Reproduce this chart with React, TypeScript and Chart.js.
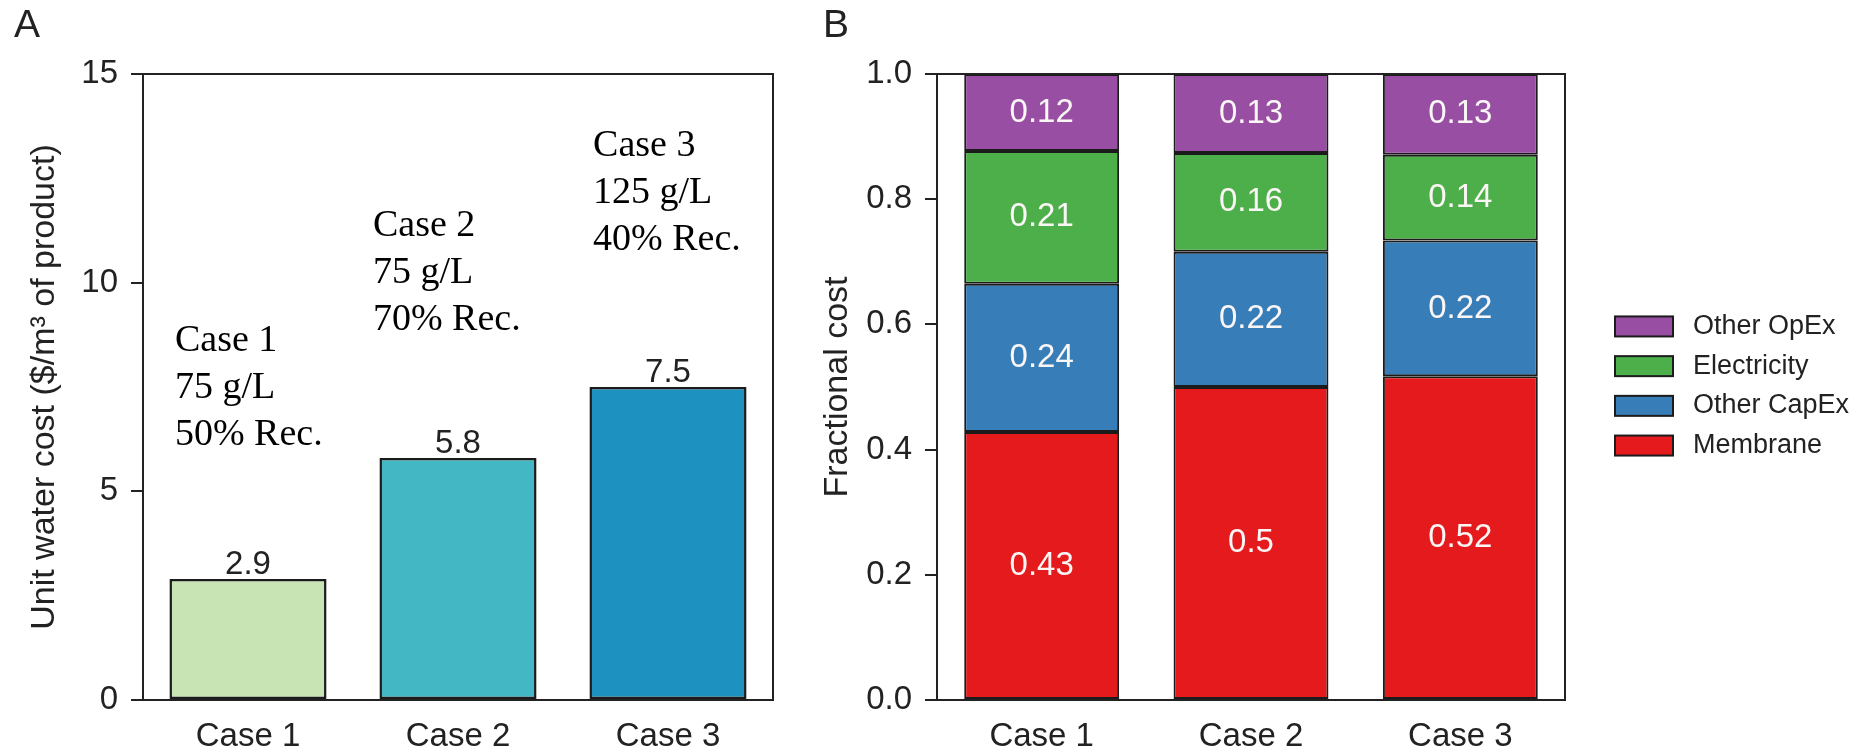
import React, { useEffect, useRef } from 'react';
import { Chart, registerables } from 'chart.js';

Chart.register(...registerables);

// ---------- data ----------
const cases = ['Case 1', 'Case 2', 'Case 3'];

// Panel A
const unitCost = [2.9, 5.8, 7.5];
const unitCostColors = ['#c9e4b4', '#44b7c4', '#1d91c0'];
const unitCostTicks = [0, 5, 10, 15];
const caseNotes = [
  ['Case 1', '75 g/L', '50% Rec.'],
  ['Case 2', '75 g/L', '70% Rec.'],
  ['Case 3', '125 g/L', '40% Rec.'],
];

// Panel B (fractions, bottom to top)
const membrane = [0.428, 0.5, 0.517];
const otherCapEx = [0.237, 0.216, 0.217];
const electricity = [0.212, 0.158, 0.137];
const otherOpEx = [0.123, 0.126, 0.129];
const fractionTicks = [0, 0.2, 0.4, 0.6, 0.8, 1.0];

// ---------- layout / style constants ----------
const SANS = '"Liberation Sans", Arial, Helvetica, sans-serif';
const SERIF = '"Liberation Serif", "Times New Roman", serif';
const INK = '#222222';
const EDGE = '#1b1b1b';
// annotation anchors (category offset in category widths, y in data units of the baseline of the first line)
const notePos = [
  { dx: -0.348, y: 8.36 },
  { dx: -0.405, y: 11.12 },
  { dx: -0.357, y: 13.03 },
];
const NOTE_LINE = 47;

const fmt2 = (v: number) => String(Number(v.toFixed(2)));

function framePlugin(letter: string, letterX: number) {
  return {
    id: 'frame' + letter,
    afterDraw(chart: any) {
      const { ctx, chartArea } = chart;
      ctx.save();
      ctx.strokeStyle = INK;
      ctx.lineWidth = 2;
      ctx.beginPath();
      ctx.moveTo(chartArea.left, chartArea.top);
      ctx.lineTo(chartArea.right, chartArea.top);
      ctx.lineTo(chartArea.right, chartArea.bottom);
      ctx.stroke();
      ctx.fillStyle = INK;
      ctx.font = `39px ${SANS}`;
      ctx.textAlign = 'left';
      ctx.textBaseline = 'alphabetic';
      ctx.fillText(letter, letterX, 37);
      ctx.restore();
    },
  };
}

const panelALabels = {
  id: 'panelALabels',
  afterDatasetsDraw(chart: any) {
    const { ctx } = chart;
    const meta = chart.getDatasetMeta(0);
    const xs = chart.scales.x;
    const ys = chart.scales.y;
    ctx.save();
    ctx.fillStyle = INK;
    ctx.font = `33px ${SANS}`;
    ctx.textAlign = 'center';
    ctx.textBaseline = 'alphabetic';
    meta.data.forEach((el: any, i: number) => {
      ctx.fillText(String(unitCost[i]), el.x, el.y - 5);
    });
    ctx.fillStyle = '#000000';
    ctx.font = `38px ${SERIF}`;
    ctx.textAlign = 'left';
    const catW = xs.width / cases.length;
    caseNotes.forEach((lines, i) => {
      const x = xs.getPixelForValue(i) + notePos[i].dx * catW;
      const y0 = ys.getPixelForValue(notePos[i].y);
      lines.forEach((t, k) => ctx.fillText(t, x, y0 + k * NOTE_LINE));
    });
    ctx.restore();
  },
};

const panelBLabels = {
  id: 'panelBLabels',
  afterDatasetsDraw(chart: any) {
    const { ctx } = chart;
    ctx.save();
    ctx.fillStyle = '#fbf6f6';
    ctx.font = `33px ${SANS}`;
    ctx.textAlign = 'center';
    ctx.textBaseline = 'middle';
    chart.data.datasets.forEach((ds: any, di: number) => {
      const meta = chart.getDatasetMeta(di);
      meta.data.forEach((el: any, i: number) => {
        ctx.fillText(fmt2(ds.data[i]), el.x, (el.y + el.base) / 2);
      });
    });
    ctx.restore();
  },
  afterDraw(chart: any) {
    const { ctx, chartArea } = chart;
    const items = chart.data.datasets.slice().reverse();
    const x0 = chartArea.right + 50;
    const step = 39.7;
    const cy0 = (chartArea.top + chartArea.bottom) / 2 - (step * (items.length - 1)) / 2 - 1;
    ctx.save();
    items.forEach((ds: any, i: number) => {
      const cy = cy0 + i * step;
      ctx.fillStyle = ds.backgroundColor;
      ctx.fillRect(x0, cy - 10, 58, 20);
      ctx.strokeStyle = EDGE;
      ctx.lineWidth = 2;
      ctx.strokeRect(x0, cy - 10, 58, 20);
      ctx.fillStyle = INK;
      ctx.font = `27px ${SANS}`;
      ctx.textAlign = 'left';
      ctx.textBaseline = 'middle';
      ctx.fillText(ds.label, x0 + 58 + 20, cy);
    });
    ctx.restore();
  },
};

function yAxis(min: number, max: number, tickList: number[], title: string, width: number, titlePad: number, fmt: (v: number) => string) {
  return {
    min,
    max,
    stacked: true,
    afterBuildTicks: (s: any) => {
      s.ticks = tickList.map((v) => ({ value: v }));
    },
    afterFit: (s: any) => {
      s.width = width;
    },
    ticks: {
      color: INK,
      padding: 13,
      font: { family: SANS, size: 33 },
      callback: (v: any) => fmt(Number(v)),
    },
    grid: { drawOnChartArea: false, drawTicks: true, tickLength: 12, color: INK, lineWidth: 2 },
    border: { display: true, color: INK, width: 2 },
    title: {
      display: true,
      text: title,
      color: INK,
      font: { family: SANS, size: 34 },
      padding: { top: titlePad, bottom: 0 },
    },
  };
}

function xAxis() {
  return {
    stacked: true,
    afterFit: (s: any) => {
      s.height = 55;
    },
    grid: { display: false, drawTicks: false },
    border: { display: true, color: INK, width: 2 },
    ticks: { color: INK, padding: 17, font: { family: SANS, size: 33 } },
  };
}

export default function App() {
  const refA = useRef<HTMLCanvasElement>(null);
  const refB = useRef<HTMLCanvasElement>(null);

  useEffect(() => {
    document.body.style.margin = '0';
    document.body.style.overflow = 'hidden';

    const chartA = new Chart(refA.current as HTMLCanvasElement, {
      type: 'bar',
      data: {
        labels: cases,
        datasets: [
          {
            label: 'Unit water cost',
            data: unitCost,
            backgroundColor: unitCostColors,
            borderColor: EDGE,
            borderWidth: 2.5,
            borderSkipped: false,
            barPercentage: 0.748,
            categoryPercentage: 1,
          },
        ],
      },
      options: {
        animation: false,
        responsive: true,
        maintainAspectRatio: false,
        layout: { padding: { top: 74, right: 17, bottom: 0, left: 0 } },
        plugins: { legend: { display: false }, tooltip: { enabled: false } },
        scales: {
          x: xAxis() as any,
          y: yAxis(0, 15, unitCostTicks, 'Unit water cost ($/m³ of product)', 143, 24, (v) => String(v)) as any,
        },
      },
      plugins: [framePlugin('A', 14), panelALabels],
    });

    const chartB = new Chart(refB.current as HTMLCanvasElement, {
      type: 'bar',
      data: {
        labels: cases,
        datasets: [
          { label: 'Membrane', data: membrane, backgroundColor: '#e41a1c' },
          { label: 'Other CapEx', data: otherCapEx, backgroundColor: '#377eb8' },
          { label: 'Electricity', data: electricity, backgroundColor: '#4daf4a' },
          { label: 'Other OpEx', data: otherOpEx, backgroundColor: '#984ea3' },
        ].map((d) => ({
          ...d,
          borderColor: EDGE,
          borderWidth: 2,
          borderSkipped: false,
          barPercentage: 0.74,
          categoryPercentage: 1,
        })),
      },
      options: {
        animation: false,
        responsive: true,
        maintainAspectRatio: false,
        layout: { padding: { top: 74, right: 302, bottom: 0, left: 0 } },
        plugins: { legend: { display: false }, tooltip: { enabled: false } },
        scales: {
          x: xAxis() as any,
          y: yAxis(0, 1, fractionTicks, 'Fractional cost', 147, 27, (v) => v.toFixed(1)) as any,
        },
      },
      plugins: [framePlugin('B', 33), panelBLabels],
    });

    return () => {
      chartA.destroy();
      chartB.destroy();
    };
  }, []);

  return (
    <div style={{ position: 'relative', width: 1867, height: 755, overflow: 'hidden', background: '#ffffff' }}>
      <div style={{ position: 'absolute', left: 0, top: 0, width: 790, height: 755 }}>
        <canvas ref={refA} />
      </div>
      <div style={{ position: 'absolute', left: 790, top: 0, width: 1077, height: 755 }}>
        <canvas ref={refB} />
      </div>
    </div>
  );
}
